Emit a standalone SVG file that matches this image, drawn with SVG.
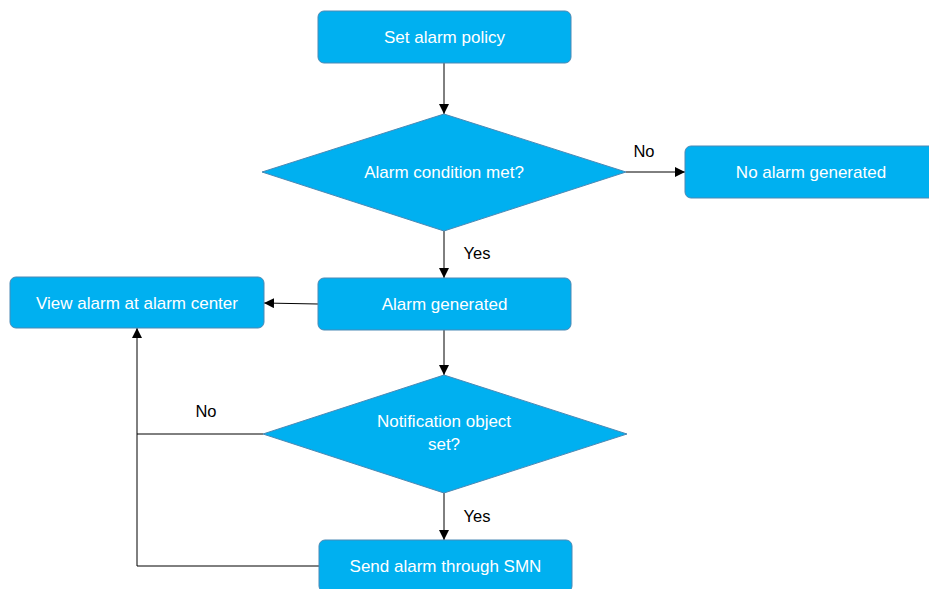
<svg xmlns="http://www.w3.org/2000/svg" width="929" height="589" viewBox="0 0 929 589">
  <style>
    .box { fill: #00B0F0; stroke: #4A89B5; stroke-width: 1; }
    .t { font-family: "Liberation Sans", Arial, sans-serif; font-size: 17px; fill: #FFFFFF; text-anchor: middle; dominant-baseline: central; }
    .lbl { font-family: "Liberation Sans", Arial, sans-serif; font-size: 16.5px; fill: #000000; text-anchor: middle; dominant-baseline: central; }
    .edge { fill: none; stroke: #000000; stroke-width: 1; }
    .arrow { fill: none; stroke: #000000; stroke-width: 1; marker-end: url(#head); }
  </style>
  <defs>
    <marker id="head" viewBox="0 0 10 10" refX="10" refY="5" markerWidth="10" markerHeight="10" markerUnits="userSpaceOnUse" orient="auto">
      <path d="M0,0 L10,5 L0,10 z" fill="#000000"/>
    </marker>
  </defs>
  <rect width="929" height="589" fill="#FFFFFF"/>

  <g id="connectors">
    <line class="arrow" x1="444" y1="63" x2="444" y2="114"/>
    <line class="arrow" x1="626" y1="172" x2="685" y2="172"/>
    <line class="arrow" x1="444" y1="231" x2="444" y2="278"/>
    <line class="arrow" x1="318" y1="304" x2="264" y2="303"/>
    <line class="arrow" x1="444" y1="330" x2="444" y2="375"/>
    <polyline class="arrow" points="263,434 137,434 137,328"/>
    <line class="arrow" x1="444" y1="493" x2="444" y2="540"/>
    <polyline class="edge" points="319,566 137,566 137,434"/>
    <text class="lbl" x="644" y="151">No</text>
    <text class="lbl" x="477" y="253">Yes</text>
    <text class="lbl" x="206" y="411">No</text>
    <text class="lbl" x="477" y="516">Yes</text>
  </g>

  <g id="set-policy">
    <rect class="box" x="318" y="11" width="253" height="52" rx="6"/>
    <text class="t" x="444.5" y="37">Set alarm policy</text>
  </g>

  <g id="condition-met">
    <polygon class="box" points="444,114 626,172 444,231 262,172"/>
    <text class="t" x="444" y="172">Alarm condition met?</text>
  </g>

  <g id="no-alarm">
    <rect class="box" x="685" y="146" width="253" height="52" rx="6"/>
    <text class="t" x="811" y="172">No alarm generated</text>
  </g>

  <g id="alarm-generated">
    <rect class="box" x="318" y="278" width="253" height="52" rx="6"/>
    <text class="t" x="444.5" y="304">Alarm generated</text>
  </g>

  <g id="view-alarm">
    <rect class="box" x="10" y="277" width="254" height="51" rx="6"/>
    <text class="t" x="137" y="303">View alarm at alarm center</text>
  </g>

  <g id="notification-set">
    <polygon class="box" points="444,375 627,434 444,493 263,434"/>
    <text class="t" x="444" y="421">Notification object</text>
    <text class="t" x="444" y="444">set?</text>
  </g>

  <g id="send-smn">
    <rect class="box" x="319" y="540" width="253" height="52" rx="6"/>
    <text class="t" x="445.5" y="566">Send alarm through SMN</text>
  </g>
</svg>
